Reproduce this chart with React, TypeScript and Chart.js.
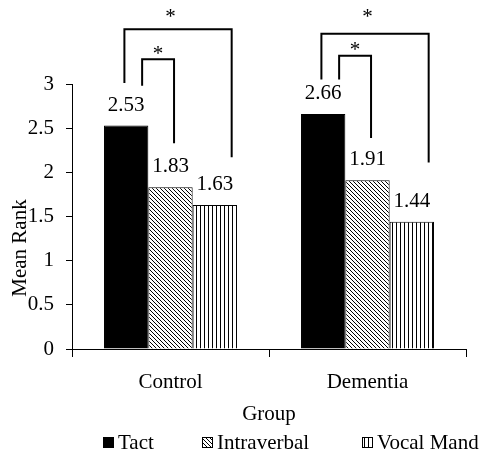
import React, { useEffect, useRef } from "react";
import { Chart, registerables } from "chart.js";

Chart.register(...registerables);

// ---- data ----
const groups = ["Control", "Dementia"];
const seriesNames = ["Tact", "Intraverbal", "Vocal Mand"];
const tactValues = [2.53, 2.66];
const intraverbalValues = [1.83, 1.91];
const vocalMandValues = [1.63, 1.44];
const yMin = 0;
const yMax = 3;
const yStep = 0.5;
const xTitle = "Group";
const yTitle = "Mean Rank";

// significance brackets (values in data units)
const bracketGroup = [0, 0, 1, 1];
const bracketFrom = [0, 0, 0, 0];
const bracketTo = [2, 1, 2, 1];
const bracketTop = [3.62, 3.28, 3.57, 3.32];
const bracketFromFoot = [3.01, 2.98, 3.05, 3.05];
const bracketToFoot = [2.17, 2.33, 2.11, 2.39];
const bracketStar = [3.82, 3.4, 3.82, 3.44];
const bracketLabel = ["*", "*", "*", "*"];

const FONT = "Liberation Serif";
const FS = 21;

Chart.defaults.font.family = FONT;
Chart.defaults.font.size = FS;
Chart.defaults.color = "#000";

function makeDiagonal(): CanvasPattern | string {
  const c = document.createElement("canvas");
  c.width = 4;
  c.height = 4;
  const g = c.getContext("2d");
  if (!g) return "#888";
  g.fillStyle = "#fff";
  g.fillRect(0, 0, 4, 4);
  g.fillStyle = "#000";
  for (let i = 0; i < 4; i++) g.fillRect(i, i, 1, 1);
  return g.createPattern(c, "repeat") || "#888";
}

function makeVertical(): CanvasPattern | string {
  const c = document.createElement("canvas");
  c.width = 4;
  c.height = 4;
  const g = c.getContext("2d");
  if (!g) return "#aaa";
  g.fillStyle = "#fff";
  g.fillRect(0, 0, 4, 4);
  g.fillStyle = "#000";
  g.fillRect(0, 0, 1, 4);
  return g.createPattern(c, "repeat") || "#aaa";
}

export default function App() {
  const ref = useRef<HTMLCanvasElement | null>(null);

  useEffect(() => {
    const canvas = ref.current;
    if (!canvas) return;
    const diag = makeDiagonal();
    const vert = makeVertical();
    const fills: any[] = ["#000000", diag, vert];

    const annotate = {
      id: "annotate",
      afterDatasetsDraw(ch: any) {
        const ctx = ch.ctx as CanvasRenderingContext2D;
        const ys = ch.scales.y;
        ctx.save();
        ctx.fillStyle = "#000";
        ctx.strokeStyle = "#000";
        ctx.font = `${FS}px ${FONT}`;
        ctx.textAlign = "center";
        ctx.textBaseline = "alphabetic";
        ch.data.datasets.forEach((ds: any, di: number) => {
          const meta = ch.getDatasetMeta(di);
          meta.data.forEach((bar: any, i: number) => {
            const v = ds.data[i] as number;
            ctx.fillText(v.toFixed(2), bar.x, bar.y - 15);
          });
        });
        ctx.lineWidth = 2;
        for (let k = 0; k < bracketGroup.length; k++) {
          const g = bracketGroup[k];
          const a = ch.getDatasetMeta(bracketFrom[k]).data[g];
          const b = ch.getDatasetMeta(bracketTo[k]).data[g];
          const outer = bracketTo[k] - bracketFrom[k] > 1;
          const x1 = a.x + a.width * (outer ? -0.04 : 0.36);
          const x2 = b.x + b.width * (outer ? 0.38 : 0.08);
          const yt = ys.getPixelForValue(bracketTop[k]);
          const y1 = ys.getPixelForValue(bracketFromFoot[k]);
          const y2 = ys.getPixelForValue(bracketToFoot[k]);
          ctx.beginPath();
          ctx.moveTo(x1, y1);
          ctx.lineTo(x1, yt);
          ctx.lineTo(x2, yt);
          ctx.lineTo(x2, y2);
          ctx.stroke();
          const sx = outer ? (a.x + b.x) / 2 : (x1 + x2) / 2;
          const sy = ys.getPixelForValue(bracketStar[k]);
          ctx.fillText(bracketLabel[k], sx, sy + 11);
        }
        ctx.restore();
      },
      afterDraw(ch: any) {
        const ctx = ch.ctx as CanvasRenderingContext2D;
        const area = ch.chartArea;
        ctx.save();
        ctx.fillStyle = "#000";
        ctx.font = `${FS}px ${FONT}`;
        ctx.translate(20, area.bottom - 101);
        ctx.rotate(-Math.PI / 2);
        ctx.textAlign = "center";
        ctx.textBaseline = "middle";
        ctx.fillText(yTitle, 0, 0);
        ctx.restore();
        ctx.save();
        ctx.font = `${FS}px ${FONT}`;
        ctx.textAlign = "left";
        ctx.textBaseline = "alphabetic";
        const lx = [103, 202, 362];
        const boxTop = ch.height - 18;
        seriesNames.forEach((name, i) => {
          ctx.fillStyle = fills[i];
          ctx.fillRect(lx[i], boxTop, 11, 11);
          ctx.strokeStyle = "#000";
          ctx.lineWidth = 1;
          ctx.strokeRect(lx[i] + 0.5, boxTop + 0.5, 10, 10);
          ctx.fillStyle = "#000";
          ctx.fillText(name, lx[i] + 15, boxTop + 12);
        });
        ctx.restore();
      },
    };

    const chart = new Chart(canvas, {
      type: "bar",
      data: {
        labels: groups,
        datasets: [
          { label: seriesNames[0], data: tactValues, backgroundColor: fills[0], borderColor: "#000", borderWidth: 1 },
          { label: seriesNames[1], data: intraverbalValues, backgroundColor: fills[1], borderColor: "#000", borderWidth: 1 },
          { label: seriesNames[2], data: vocalMandValues, backgroundColor: fills[2], borderColor: "#000", borderWidth: 1 },
        ],
      },
      options: {
        responsive: false,
        animation: false,
        devicePixelRatio: 1,
        layout: { padding: { top: 84, right: 15, bottom: 27, left: 0 } },
        datasets: { bar: { categoryPercentage: 0.675, barPercentage: 1 } },
        plugins: {
          legend: { display: false },
          tooltip: { enabled: false },
        },
        scales: {
          x: {
            grid: { display: true, drawOnChartArea: false, drawTicks: true, tickLength: 8, color: "#000", offset: true },
            border: { display: true, color: "#000", width: 1 },
            ticks: { color: "#000", padding: 13, font: { family: FONT, size: FS } },
            title: { display: true, text: xTitle, color: "#000", font: { family: FONT, size: FS }, padding: { top: 0, bottom: 1 } },
            afterFit: (s: any) => { s.height = 79; },
          },
          y: {
            min: yMin,
            max: yMax,
            grid: { display: true, drawOnChartArea: false, drawTicks: true, tickLength: 6, color: "#000" },
            border: { display: true, color: "#000", width: 1 },
            ticks: {
              stepSize: yStep,
              color: "#000",
              padding: 12,
              font: { family: FONT, size: FS },
              callback: (v: any) => String(Number(v)),
            },
            afterFit: (s: any) => { s.width = 72; },
          },
        },
      },
      plugins: [annotate],
    });
    return () => chart.destroy();
  }, []);

  return (
    <div style={{ position: "absolute", left: 0, top: 0, width: 481, height: 455, background: "#fff" }}>
      <canvas ref={ref} width={481} height={455} style={{ display: "block" }} />
    </div>
  );
}
